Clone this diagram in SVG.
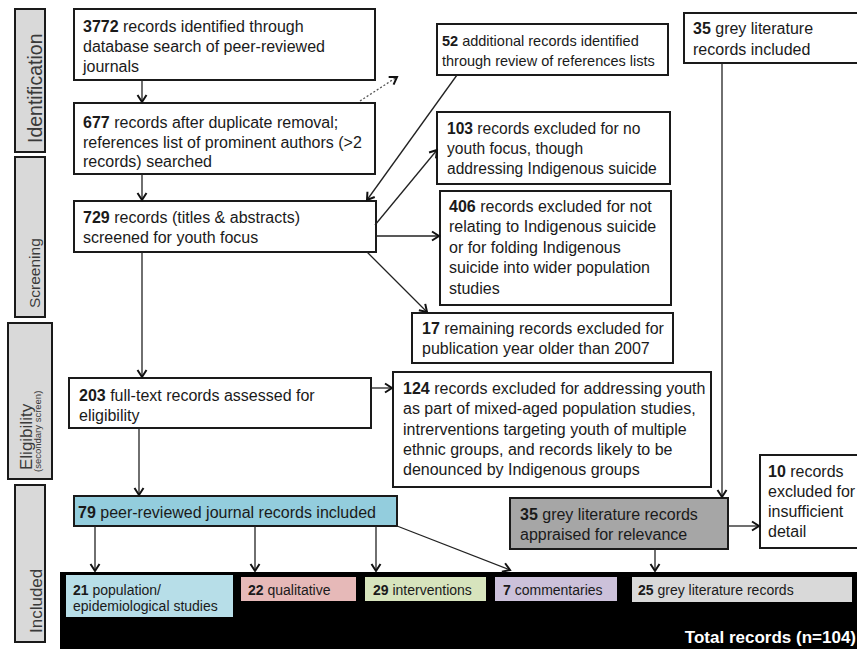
<svg xmlns="http://www.w3.org/2000/svg" width="857" height="649" viewBox="0 0 857 649">
<style>
.box{fill:#fff;stroke:#1a1a1a;stroke-width:2}
.stage{fill:#d9d9d9;stroke:#1a1a1a;stroke-width:2}
text{font-family:"Liberation Sans",Arial,sans-serif;font-size:16px;fill:#1a1a1a}
.b{font-weight:bold}
.lbl{fill:#3a3a3a}
.sm{font-size:14px}
.conn line{stroke:#222;stroke-width:1.3;fill:none}
.conn .dot{stroke:#555;stroke-dasharray:2 2}
</style>
<defs>
<marker id="ah" markerUnits="userSpaceOnUse" markerWidth="12" markerHeight="12" viewBox="0 0 12 12" refX="10" refY="6" orient="auto">
<path d="M3,1.5 L10,6 L3,10.5" fill="none" stroke="#111" stroke-width="2"/>
</marker>
</defs>
<rect width="857" height="649" fill="#fff"/>

<g id="stage-identification">
<rect class="stage" x="15" y="9" width="30" height="143"/>
<text class="lbl" transform="translate(42,143) rotate(-90)" style="font-size:19.5px">Identification</text>
</g>
<g id="stage-screening">
<rect class="stage" x="15" y="157" width="30" height="160"/>
<text class="lbl" transform="translate(40,308) rotate(-90)" style="font-size:15.5px">Screening</text>
</g>
<g id="stage-eligibility">
<rect class="stage" x="8" y="323" width="44" height="156"/>
<text class="lbl" transform="translate(32,470) rotate(-90)" style="font-size:17px">Eligibility</text>
<text class="lbl" transform="translate(41,472) rotate(-90)" style="font-size:9.5px">(secondary screen)</text>
</g>
<g id="stage-included">
<rect class="stage" x="15" y="485" width="30" height="157"/>
<text class="lbl" transform="translate(42,633) rotate(-90)" style="font-size:17px">Included</text>
</g>

<g id="total">
<rect x="60" y="572" width="800" height="80" fill="#000"/>
<text x="856" y="643" text-anchor="end" class="b" style="font-size:17px;fill:#fff">Total records (n=104)</text>
</g>

<g id="n3772">
<rect class="box" x="74" y="9" width="301" height="71"/>
<text x="83" y="32"><tspan class="b">3772</tspan> records identified through</text>
<text x="83" y="52">database search of peer-reviewed</text>
<text x="83" y="72">journals</text>
</g>
<g id="n677">
<rect class="box" x="74" y="103" width="301" height="71"/>
<text x="83" y="128"><tspan class="b">677</tspan> records after duplicate removal;</text>
<text x="83" y="148">references list of prominent authors (&gt;2</text>
<text x="83" y="167">records) searched</text>
</g>
<g id="n52">
<rect class="box" x="437" y="24" width="231" height="51"/>
<text x="442" y="46" style="font-size:14.5px"><tspan class="b">52</tspan> additional records identified</text>
<text x="442" y="66" style="font-size:14.5px">through review of references lists</text>
</g>
<g id="n35grey">
<rect class="box" x="684" y="13" width="176" height="50"/>
<text x="693" y="34"><tspan class="b">35</tspan> grey literature</text>
<text x="693" y="55">records included</text>
</g>
<g id="n103">
<rect class="box" x="437" y="112" width="233" height="72"/>
<text x="447" y="134" style="font-size:15.6px"><tspan class="b">103</tspan> records excluded for no</text>
<text x="447" y="154" style="font-size:15.6px">youth focus, though</text>
<text x="447" y="174" style="font-size:15.6px">addressing Indigenous suicide</text>
</g>
<g id="n729">
<rect class="box" x="74" y="201" width="302" height="51"/>
<text x="83" y="223"><tspan class="b">729</tspan> records (titles &amp; abstracts)</text>
<text x="83" y="243">screened for youth focus</text>
</g>
<g id="n406">
<rect class="box" x="440" y="191" width="231" height="114"/>
<text x="449" y="212"><tspan class="b">406</tspan> records excluded for not</text>
<text x="449" y="232">relating to Indigenous suicide</text>
<text x="449" y="253">or for folding Indigenous</text>
<text x="449" y="273">suicide into wider population</text>
<text x="449" y="294">studies</text>
</g>
<g id="n17">
<rect class="box" x="412" y="313" width="261" height="50"/>
<text x="422" y="334"><tspan class="b">17</tspan> remaining records excluded for</text>
<text x="422" y="354">publication year older than 2007</text>
</g>
<g id="n203">
<rect class="box" x="69" y="378" width="302" height="50"/>
<text x="79" y="401"><tspan class="b">203</tspan> full-text records assessed for</text>
<text x="79" y="421">eligibility</text>
</g>
<g id="n124">
<rect class="box" x="393" y="372" width="318" height="115"/>
<text x="403" y="394"><tspan class="b">124</tspan> records excluded for addressing youth</text>
<text x="403" y="414">as part of mixed-aged population studies,</text>
<text x="403" y="435">intrerventions targeting youth of multiple</text>
<text x="403" y="455">ethnic groups, and records likely to be</text>
<text x="403" y="475">denounced by Indigenous groups</text>
</g>
<g id="n79">
<rect class="box" x="74" y="496" width="323" height="30" style="fill:#93cddd"/>
<text x="78" y="518"><tspan class="b">79</tspan> peer-reviewed journal records included</text>
</g>
<g id="n35appraised">
<rect class="box" x="510" y="498" width="218" height="51" style="fill:#a6a6a6"/>
<text x="520" y="520"><tspan class="b">35</tspan> grey literature records</text>
<text x="520" y="540">appraised for relevance</text>
</g>
<g id="n10">
<rect class="box" x="760" y="455" width="100" height="93"/>
<text x="768" y="477"><tspan class="b">10</tspan> records</text>
<text x="768" y="497">excluded for</text>
<text x="768" y="517">insufficient</text>
<text x="768" y="537">detail</text>
</g>

<g id="n21">
<rect x="66" y="575" width="167" height="42" fill="#b7dee8"/>
<text class="sm" x="73" y="595"><tspan class="b">21</tspan> population/</text>
<text class="sm" x="73" y="611">epidemiological studies</text>
</g>
<g id="n22">
<rect x="241" y="577" width="115" height="24" fill="#e6b9b8"/>
<text class="sm" x="248" y="595"><tspan class="b">22</tspan> qualitative</text>
</g>
<g id="n29">
<rect x="365" y="577" width="121" height="24" fill="#d7e4bd"/>
<text class="sm" x="373" y="595"><tspan class="b">29</tspan> interventions</text>
</g>
<g id="n7">
<rect x="495" y="577" width="122" height="24" fill="#ccc1da"/>
<text class="sm" x="503" y="595"><tspan class="b">7</tspan> commentaries</text>
</g>
<g id="n25">
<rect x="632" y="577" width="220" height="25" fill="#d9d9d9"/>
<text class="sm" x="638" y="595"><tspan class="b">25</tspan> grey literature records</text>
</g>

<g id="connectors" class="conn">
<line x1="142" y1="80" x2="142" y2="102" marker-end="url(#ah)"/>
<line x1="142" y1="174" x2="142" y2="200" marker-end="url(#ah)"/>
<line class="dot" x1="360" y1="101" x2="397" y2="77" marker-end="url(#ah)"/>
<line x1="457" y1="75" x2="367" y2="200" marker-end="url(#ah)"/>
<line x1="375" y1="225" x2="437" y2="150" marker-end="url(#ah)"/>
<line x1="376" y1="236" x2="439" y2="236" marker-end="url(#ah)"/>
<line x1="367" y1="252" x2="427" y2="312" marker-end="url(#ah)"/>
<line x1="142" y1="252" x2="142" y2="377" marker-end="url(#ah)"/>
<line x1="371" y1="388" x2="392" y2="388" marker-end="url(#ah)"/>
<line x1="139" y1="428" x2="139" y2="495" marker-end="url(#ah)"/>
<line x1="722" y1="63" x2="722" y2="497" marker-end="url(#ah)"/>
<line x1="728" y1="526" x2="759" y2="526" marker-end="url(#ah)"/>
<line x1="655" y1="549" x2="655" y2="571" marker-end="url(#ah)"/>
<line x1="95" y1="526" x2="95" y2="571" marker-end="url(#ah)"/>
<line x1="255" y1="526" x2="255" y2="571" marker-end="url(#ah)"/>
<line x1="376" y1="526" x2="376" y2="571" marker-end="url(#ah)"/>
<line x1="397" y1="526" x2="510" y2="570" marker-end="url(#ah)"/>
</g>
</svg>
